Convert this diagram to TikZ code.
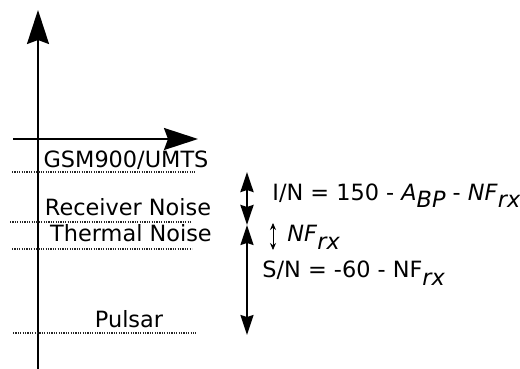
\documentclass[tikz,border=0pt]{standalone}
\usepackage{fontspec}
\setmainfont{DejaVu Sans}
\usetikzlibrary{arrows.meta}
\newcommand{\lowsub}[1]{\raisebox{-4pt}{\textit{#1}}}

\begin{document}
\begin{tikzpicture}[
    x=0.5pt, y=-0.5pt,
    axis/.style={-{Stealth[length=17pt, width=11pt, inset=2pt]}, line width=1pt},
    level/.style={line width=0.7pt, dash pattern=on 0.6pt off 0.6pt, black!85},
    lbl/.style={font=\fontsize{11.2}{13}\selectfont, inner sep=0pt, anchor=base},
    span/.style={{Stealth[length=10pt, width=6.5pt, inset=1pt]}-{Stealth[length=10pt, width=6.5pt, inset=1pt]}, line width=0.7pt},
    tinyspan/.style={{Stealth[length=3.5pt, width=3pt]}-{Stealth[length=3.5pt, width=3pt]}, line width=0.4pt},
  ]
    \useasboundingbox (0,0) rectangle (520,369);

    % axes
    \coordinate (ybot) at (38,369);
    \coordinate (ytop) at (38,10);
    \coordinate (xleft) at (13,139);
    \coordinate (xright) at (198,139);
    \draw[axis] (ybot) -- (ytop);
    \draw[axis] (xleft) -- (xright);

    % power levels
    \draw[level] (12,172) -- (195,172);
    \draw[level] (10,222) -- (192,222);
    \draw[level] (12,249) -- (192,249);
    \draw[level] (13,333) -- (196,333);

    \node[lbl] (gsm) at (126,168) {GSM900/UMTS};
    \node[lbl] (rxnoise) at (128,216) {Receiver Noise};
    \node[lbl] (thnoise) at (131,242) {Thermal Noise};
    \node[lbl] (pulsar) at (129,328) {Pulsar};

    % ratios
    \coordinate (in top) at (247,172);
    \coordinate (in bot) at (247,225);
    \coordinate (sn bot) at (247,335);
    \coordinate (nf top) at (273,223);
    \coordinate (nf bot) at (273,250);
    \draw[span, line width=1.3pt] (in top) -- (in bot);
    \draw[span] (in bot) -- (sn bot);
    \draw[tinyspan] (nf top) -- (nf bot);

    \node[lbl, anchor=base west] (inratio) at (272,200)
      {I/N = 150 - \textit{A}\lowsub{BP} - \textit{NF}\lowsub{rx}};
    \node[lbl, anchor=base west] (nfrx) at (287,242)
      {\textit{NF}\lowsub{rx}};
    \node[lbl, anchor=base west] (snratio) at (262,278)
      {S/N = -60 - NF\lowsub{rx}};
\end{tikzpicture}
\end{document}
